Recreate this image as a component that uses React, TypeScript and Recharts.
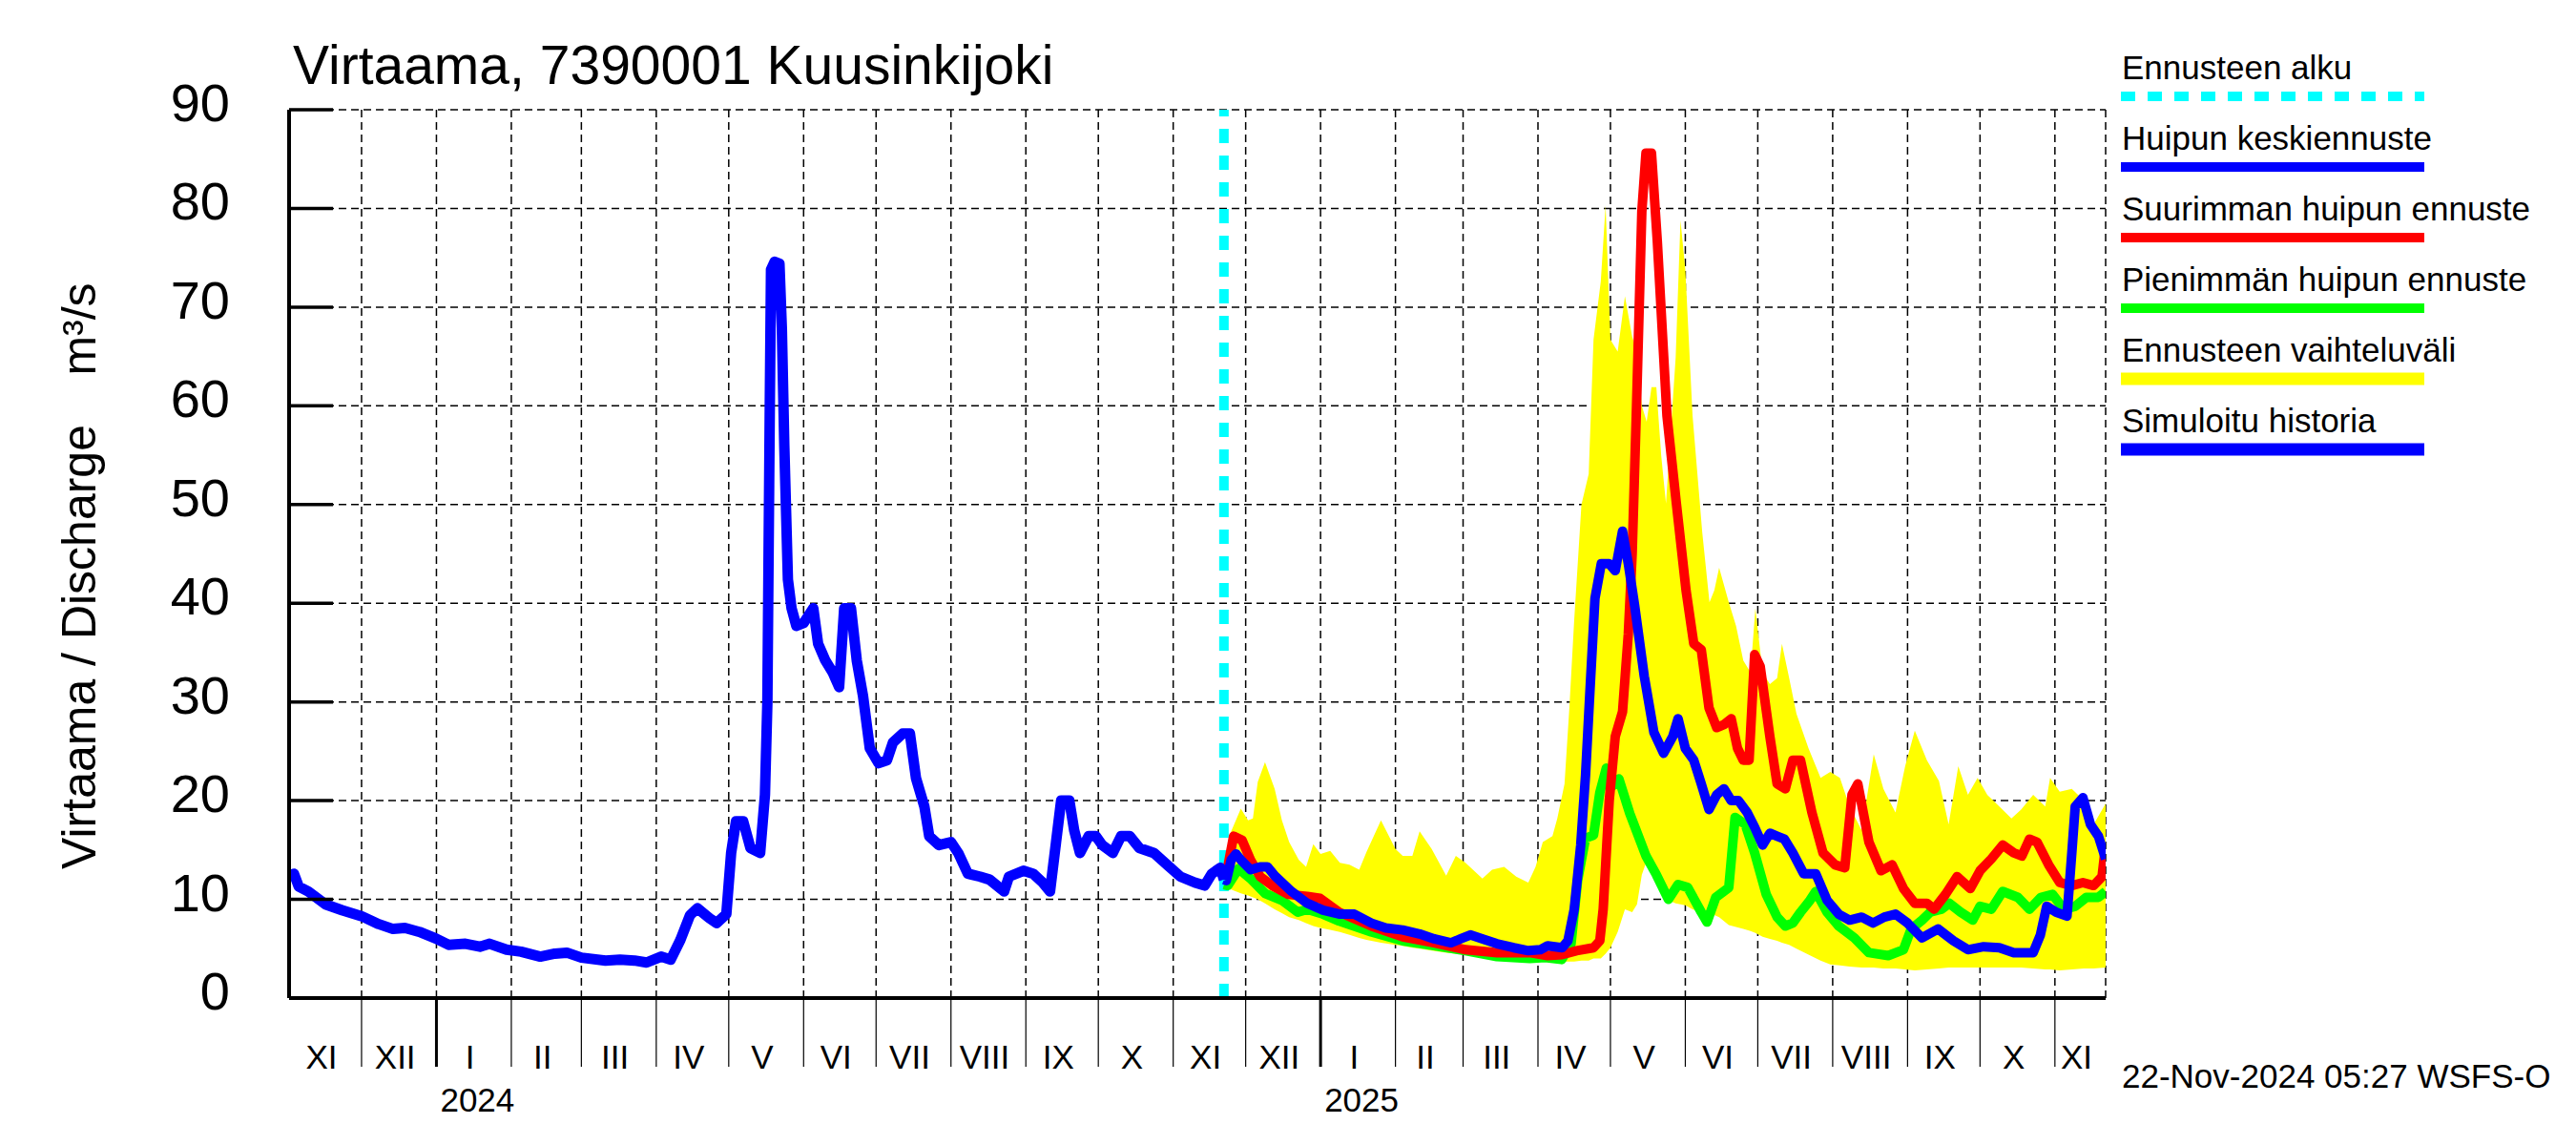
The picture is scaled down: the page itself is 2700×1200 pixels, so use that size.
import React from 'react';
import { ComposedChart, Line, Area, XAxis, YAxis, CartesianGrid, ReferenceLine } from 'recharts';

const FONT = '"Liberation Sans", Arial, Helvetica, sans-serif';

// x values are days counted from 1 Nov 2023
const monthStarts = [0, 30, 61, 92, 121, 152, 182, 213, 243, 274, 305, 335, 366, 396, 427, 458, 486, 517, 547, 578, 608, 639, 670, 700, 731];
const monthLabels = ['XI', 'XII', 'I', 'II', 'III', 'IV', 'V', 'VI', 'VII', 'VIII', 'IX', 'X', 'XI', 'XII', 'I', 'II', 'III', 'IV', 'V', 'VI', 'VII', 'VIII', 'IX', 'X', 'XI'];
const DAY_END = 752;
const yearStarts = [61, 427];
const yearLabels = ['2024', '2025'];
const yTicks = [0, 10, 20, 30, 40, 50, 60, 70, 80, 90];
const forecastStart = 387;

const historySeries: [number, number][] = [
  [0, 12.3], [2, 12.6], [4, 11.3], [8, 10.8], [15, 9.5], [22, 8.9], [30, 8.3], [37, 7.5], [43, 7.0], [48, 7.1],
  [54, 6.7], [61, 6.0], [66, 5.4], [73, 5.5], [79, 5.2], [83, 5.5], [90, 4.9], [96, 4.7], [104, 4.2], [110, 4.5],
  [115, 4.6], [121, 4.1], [131, 3.8], [137, 3.9], [143, 3.8], [148, 3.6], [154, 4.2], [158, 3.9], [162, 5.9], [166, 8.4],
  [169, 9.1], [174, 8.1], [177, 7.6], [181, 8.5], [183, 14.7], [185, 17.9], [188, 17.9], [191, 15.2], [195, 14.7], [197, 20.6],
  [198, 30], [199, 60], [199.5, 73.8], [201, 74.6], [203, 74.4], [204, 67.8], [205, 56], [206.5, 42.4], [208, 39.5], [210, 37.7],
  [213, 38], [217, 39.5], [219, 35.9], [222, 34.2], [225, 33.0], [227.7, 31.5], [229.8, 39.5], [232.6, 39.5], [235, 34.2], [237.6, 30.6],
  [240.4, 25.3], [244, 23.8], [247.5, 24.1], [250, 25.9], [254, 26.8], [257, 26.8], [259.5, 22.3], [263, 19.4], [265, 16.4], [269, 15.5],
  [274, 15.8], [277, 14.7], [281, 12.6], [286, 12.3], [290, 12.0], [296, 10.8], [298, 12.3], [304, 12.9], [308, 12.6], [312, 11.7],
  [315, 10.8], [317.5, 15.8], [319.6, 20], [323, 20], [325, 17], [327.4, 14.7], [331, 16.4], [334, 16.4], [336.6, 15.5], [341, 14.7],
  [344.4, 16.4], [348, 16.4], [352, 15.2], [358, 14.7], [363.5, 13.5], [369, 12.3], [375, 11.7], [379, 11.4], [382, 12.6], [385.5, 13.2], [387, 12],
];

const meanSeries: [number, number][] = [
  [387, 12], [388, 11.9], [390, 14.0], [392, 14.6], [394, 14.0], [398, 13.0], [402, 13.3], [405, 13.3], [408, 12.4], [415, 10.8],
  [421.5, 9.6], [428, 8.9], [435, 8.5], [441, 8.5], [448, 7.6], [454, 7.1], [461, 6.9], [468, 6.5], [474, 6.0], [481, 5.6],
  [485, 6.0], [489, 6.4], [494, 6.0], [500, 5.5], [507, 5.1], [513, 4.8], [518, 4.9], [521, 5.3], [527, 5.1], [529.4, 5.8],
  [532, 9.0], [534.7, 15.5], [536.7, 22.6], [538.6, 31.5], [540.6, 40.5], [543.2, 44.0], [546.5, 44.0], [549, 43.3], [552, 47.3], [554.4, 44.0],
  [557, 39.8], [561, 32.6], [565, 26.9], [569, 24.8], [572.8, 26.5], [575, 28.3], [578, 25.3], [581.5, 24.1], [584.6, 21.7], [587.8, 19.1],
  [591, 20.6], [594, 21.2], [597, 20.0], [600, 20.0], [603.6, 18.8], [606.7, 17.3], [610, 15.5], [613, 16.7], [616, 16.4], [619, 16.1],
  [622.5, 14.7], [627, 12.6], [632, 12.6], [636.7, 9.9], [641.5, 8.5], [646, 7.9], [651, 8.2], [655.7, 7.6], [660.4, 8.2], [665, 8.5],
  [670, 7.6], [676, 6.1], [682.6, 7.0], [689, 5.8], [695, 4.9], [701.5, 5.2], [708, 5.1], [714, 4.6], [722, 4.6], [725, 6.4],
  [727.6, 9.3], [731.5, 8.7], [736, 8.3], [738, 14.7], [739.4, 19.4], [742.6, 20.3], [745.7, 17.6], [749, 16.4], [752, 14.1],
];

const maxSeries: [number, number][] = [
  [387, 12.5], [388.6, 13.3], [391, 16.4], [394.5, 16.0], [398, 14.0], [402, 12.3], [407, 11.4], [413.6, 10.5], [421.5, 10.3], [426.8, 10.1],
  [434.7, 8.7], [448, 7.3], [461, 6.2], [474, 5.6], [487, 4.9], [500, 4.6], [513.6, 4.6], [521, 4.3], [527, 4.4], [533, 4.8],
  [540, 5.1], [542.6, 5.8], [544, 9], [546.5, 20], [549, 26.5], [552, 29], [554.4, 36.9], [556, 45], [557.8, 60], [560, 79.7],
  [561.7, 85.6], [564, 85.6], [566.4, 76.7], [570.4, 59.0], [574.3, 50.1], [578.3, 41.3], [581.5, 35.9], [584.6, 35.3], [587.8, 29.4], [591, 27.4],
  [594, 27.7], [597, 28.3], [599.6, 25.3], [602, 24.1], [604.4, 24.1], [606.7, 34.8], [609, 33.6], [613, 26.5], [616, 21.7], [619.4, 21.2],
  [622.5, 24.1], [625.7, 24.1], [630.4, 18.8], [635, 14.7], [640, 13.5], [644, 13.2], [647, 20.6], [649.4, 21.7], [654, 15.8], [659, 12.9],
  [663.6, 13.5], [668.3, 11.1], [673, 9.6], [678, 9.6], [681, 9.0], [685.7, 10.5], [690.5, 12.3], [696, 11.1], [700, 12.9], [704.7, 14.1],
  [709.4, 15.5], [714, 14.7], [717.3, 14.4], [720.5, 16.1], [723.6, 15.8], [728.4, 13.5], [733, 11.7], [738, 11.4], [742.6, 11.7], [747, 11.4],
  [750.5, 12.3], [752, 15.5],
];

const minSeries: [number, number][] = [
  [387, 11.5], [388.6, 11.4], [393, 13.1], [398, 12.1], [404, 10.6], [411, 9.9], [417.6, 8.7], [421.5, 9.0], [428, 8.5], [434.7, 7.8],
  [448, 6.7], [461, 5.8], [474, 5.3], [487, 4.8], [500, 4.2], [513.6, 4.0], [520, 4.1], [526.8, 3.9], [530.7, 5.5], [533.4, 11.9],
  [536.7, 16.2], [540, 16.5], [542.6, 20.8], [545.3, 23.3], [547.9, 21.5], [550.5, 22.2], [555, 18.7], [561.7, 14.4], [566, 12.5], [571, 10.0],
  [575, 11.5], [579, 11.2], [584.6, 8.7], [587, 7.7], [590.6, 10.2], [596, 11.2], [598.6, 18.3], [602.8, 17.6], [606.7, 14.7], [611.5, 10.5],
  [616, 8.2], [619.4, 7.3], [622.5, 7.6], [625.7, 8.7], [629.6, 9.9], [632, 10.8], [636.7, 8.7], [641.5, 7.3], [648, 6.1], [654, 4.6],
  [662, 4.3], [668.3, 4.9], [671.5, 7.0], [676, 7.9], [679.4, 8.7], [684, 9.0], [687.3, 9.6], [692, 8.7], [697, 7.9], [700, 9.3],
  [704.7, 9.0], [709.4, 10.8], [715.7, 10.2], [720.5, 9.0], [725.2, 10.2], [730, 10.5], [734.7, 9.0], [739.4, 9.3], [744, 10.2], [749, 10.2], [752, 10.8],
];

// [day, low, high]
const bandSeries: [number, number, number][] = [
  [387, 11.5, 13], [390, 11.0, 16.9], [394, 10.6, 19.2], [397, 10.4, 18.0], [399, 10.2, 18.2], [401, 10.0, 21.9], [404, 9.6, 23.9], [408, 9.0, 21.2],
  [411, 8.6, 18.0], [414, 8.2, 15.8], [418, 7.9, 14.0], [421, 7.6, 13.3], [424, 7.3, 15.6], [427, 7.1, 14.6], [431, 6.9, 14.9], [435, 6.7, 13.7],
  [439, 6.4, 13.5], [443, 6.1, 13.0], [446, 5.9, 14.8], [452, 5.6, 18.0], [458, 5.4, 15.1], [461, 5.3, 14.4], [465, 5.1, 14.4], [468, 5.0, 16.9],
  [473, 4.8, 15.1], [479, 4.6, 12.4], [483, 4.5, 14.4], [487, 4.4, 13.7], [494, 4.2, 12.1], [498, 4.1, 13.0], [503, 4.0, 13.3], [508, 3.9, 12.3],
  [513, 3.9, 11.7], [516, 3.9, 13.3], [519, 3.8, 15.8], [523, 3.8, 16.4], [525, 3.8, 18.2], [528, 3.7, 21.7], [530, 3.7, 29.4], [532, 3.7, 38.3],
  [535, 3.8, 50], [538, 3.8, 53.1], [540, 4.0, 66.7], [543, 4.0, 72.6], [545, 4.5, 80.3], [547, 5.1, 66.7], [550, 6.7, 65.5], [553, 9.0, 71.1],
  [556, 8.7, 67], [558, 9.5, 65.5], [560, 12.5, 60], [562, 13.9, 58.4], [564, 12.8, 61.9], [566, 12.0, 61.9], [568, 10.8, 55], [570, 10.0, 50.1],
  [574, 9.6, 64.9], [576, 9.5, 78.8], [578, 9.4, 73.8], [581, 9.0, 59.0], [585, 8.6, 47.2], [588, 8.5, 40.1], [590, 8.4, 41.3], [592, 8.2, 43.6],
  [596, 7.4, 40.1], [599, 7.2, 37.7], [602, 7.0, 34.2], [605, 6.8, 33.0], [607, 6.6, 39.5], [610, 6.2, 33.0], [613, 6.0, 31.8], [616, 5.8, 32.4],
  [618, 5.6, 35.9], [621, 5.4, 32.4], [624, 5.0, 28.8], [629, 4.4, 25.3], [634, 3.8, 22.3], [638, 3.4, 22.9], [642, 3.3, 22.3], [646, 3.2, 19.4],
  [651, 3.1, 17.0], [656, 3.1, 24.7], [660, 3.0, 21.2], [665, 3.0, 18.8], [669, 2.9, 23.5], [673, 2.8, 27.1], [678, 2.9, 24.1], [683, 3.0, 22.0],
  [687, 3.1, 17.6], [691, 3.1, 23.5], [695, 3.1, 20.6], [699, 3.1, 22.3], [703, 3.1, 20.6], [708, 3.1, 19.4], [713, 3.1, 18.2], [717, 3.1, 19.1],
  [722, 3.0, 20.6], [727, 2.9, 19.4], [729, 2.9, 22.3], [733, 2.8, 20.9], [738, 2.9, 21.2], [743, 3.0, 20.0], [747, 3.0, 17.6], [752, 3.1, 19.7],
];

const legendItems = [
  { label: 'Ennusteen alku', color: '#00FFFF', width: 10, dash: '15 13' },
  { label: 'Huipun keskiennuste', color: '#0000FF', width: 10, dash: undefined },
  { label: 'Suurimman huipun ennuste', color: '#FF0000', width: 10, dash: undefined },
  { label: 'Pienimmän huipun ennuste', color: '#00FF00', width: 10, dash: undefined },
  { label: 'Ennusteen vaihteluväli', color: '#FFFF00', width: 13, dash: undefined },
  { label: 'Simuloitu historia', color: '#0000FF', width: 13, dash: undefined },
];

const toPts = (s: [number, number][]) => s.map(([d, v]) => ({ d, v }));
const historyData = toPts(historySeries);
const meanData = toPts(meanSeries);
const maxData = toPts(maxSeries);
const minData = toPts(minSeries);
const bandData = bandSeries.map(([d, lo, hi]) => ({ d, range: [lo, hi] }));
const monthMids = monthStarts.map((s, i) => (s + (i + 1 < monthStarts.length ? monthStarts[i + 1] : DAY_END)) / 2);

const TICK_LEN = 72;

const MonthTick = (props: any) => {
  const { x, y, payload } = props;
  const v = payload.value;
  if (v <= 0 || v >= DAY_END) return <g />;
  const isYear = yearStarts.includes(v);
  return <line x1={x} x2={x} y1={y - TICK_LEN} y2={y} stroke="#000" strokeWidth={isYear ? 3 : 1.2} />;
};

const LabelTick = (props: any) => {
  const { x, y, payload } = props;
  const i = monthMids.indexOf(payload.value);
  return (
    <text x={x - 4} y={y + 2} textAnchor="middle" fontSize={35} fontFamily={FONT} fill="#000">
      {monthLabels[i]}
    </text>
  );
};

const YearTick = (props: any) => {
  const { x, y, payload } = props;
  const i = yearStarts.indexOf(payload.value);
  return (
    <text x={x + 4} y={y + 7} textAnchor="start" fontSize={35} fontFamily={FONT} fill="#000">
      {yearLabels[i]}
    </text>
  );
};

const YTick = (props: any) => {
  const { x, y, payload } = props;
  return (
    <g>
      <line x1={x} x2={x + 46} y1={y} y2={y} stroke="#000" strokeWidth={3.5} />
      <text x={x - 62} y={y + 12} textAnchor="end" fontSize={56} fontFamily={FONT} fill="#000">
        {payload.value}
      </text>
    </g>
  );
};

export default function App() {
  return (
    <div style={{ position: 'relative', width: 2700, height: 1200, background: '#fff' }}>
      <style>{'body{margin:0;background:#fff;}'}</style>
      <ComposedChart width={2700} height={1200} margin={{ top: 115, right: 493, bottom: 2, left: 243 }}>
        <XAxis
          dataKey="d"
          type="number"
          domain={[0, DAY_END]}
          allowDataOverflow
          ticks={[...monthStarts, DAY_END]}
          interval={0}
          tickSize={TICK_LEN}
          tickMargin={0}
          tickLine={false}
          axisLine={{ stroke: '#000', strokeWidth: 4 }}
          height={TICK_LEN}
          tick={<MonthTick />}
        />
        <XAxis
          xAxisId="lab"
          dataKey="d"
          type="number"
          domain={[0, DAY_END]}
          allowDataOverflow
          ticks={monthMids}
          interval={0}
          tickSize={0}
          tickMargin={0}
          tickLine={false}
          axisLine={false}
          height={40}
          tick={<LabelTick />}
        />
        <XAxis
          xAxisId="yr"
          dataKey="d"
          type="number"
          domain={[0, DAY_END]}
          allowDataOverflow
          ticks={yearStarts}
          interval={0}
          tickSize={0}
          tickMargin={0}
          tickLine={false}
          axisLine={false}
          height={40}
          tick={<YearTick />}
        />
        <YAxis
          type="number"
          domain={[0, 90]}
          allowDataOverflow
          ticks={yTicks}
          interval={0}
          width={60}
          tickSize={0}
          tickMargin={0}
          tickLine={false}
          axisLine={{ stroke: '#000', strokeWidth: 4 }}
          tick={<YTick />}
        />
        <CartesianGrid stroke="#000" strokeWidth={1.5} strokeDasharray="8 5" />
        <Area data={bandData} dataKey="range" type="linear" stroke="none" fill="#FFFF00" fillOpacity={1} isAnimationActive={false} />
        <ReferenceLine x={forecastStart} stroke="#00FFFF" strokeWidth={10} strokeDasharray="15 13" />
        <Line data={minData} dataKey="v" type="linear" stroke="#00FF00" strokeWidth={10} strokeLinejoin="round" dot={false} isAnimationActive={false} />
        <Line data={maxData} dataKey="v" type="linear" stroke="#FF0000" strokeWidth={10} strokeLinejoin="round" dot={false} isAnimationActive={false} />
        <Line data={meanData} dataKey="v" type="linear" stroke="#0000FF" strokeWidth={10} strokeLinejoin="round" dot={false} isAnimationActive={false} />
        <Line data={historyData} dataKey="v" type="linear" stroke="#0000FF" strokeWidth={11} strokeLinejoin="round" dot={false} isAnimationActive={false} />
      </ComposedChart>
      <svg width={2700} height={1200} style={{ position: 'absolute', left: 0, top: 0, pointerEvents: 'none' }}>
        <text x={307} y={88} fontSize={57} fontFamily={FONT} fill="#000">Virtaama, 7390001 Kuusinkijoki</text>
        <text transform="translate(100,678) rotate(-90)" textAnchor="middle" fontSize={50} fontFamily={FONT} fill="#000">Virtaama / Discharge</text>
        <text transform="translate(100,345) rotate(-90)" textAnchor="middle" fontSize={50} fontFamily={FONT} fill="#000">m³/s</text>
        {legendItems.map((it, i) => (
          <g key={it.label}>
            <text x={2224} y={83 + i * 74} fontSize={35} fontFamily={FONT} fill="#000">{it.label}</text>
            <line x1={2223} x2={2541} y1={101 + i * 74} y2={101 + i * 74} stroke={it.color} strokeWidth={it.width} strokeDasharray={it.dash} />
          </g>
        ))}
        <text x={2224} y={1140} fontSize={35} fontFamily={FONT} fill="#000">22-Nov-2024 05:27 WSFS-O</text>
      </svg>
    </div>
  );
}
